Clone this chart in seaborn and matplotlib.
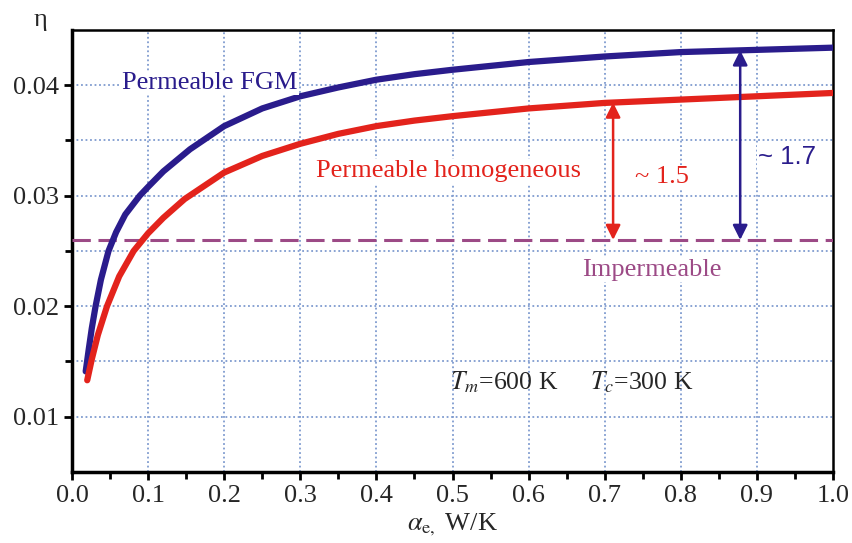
import numpy as np
import pandas as pd
import matplotlib
matplotlib.use("Agg")
import matplotlib.pyplot as plt
import seaborn as sns

# curves
alpha_fgm = [0.018, 0.022, 0.026, 0.031, 0.038, 0.048, 0.058, 0.07, 0.089, 0.1, 0.12, 0.155,
             0.2, 0.25, 0.3, 0.35, 0.4, 0.45, 0.5, 0.6, 0.7, 0.8, 0.9, 1.0]
eta_fgm = [0.0141, 0.0161, 0.0180, 0.0200, 0.0224, 0.0250, 0.0267, 0.0283, 0.0300, 0.0308,
           0.0322, 0.0342, 0.0363, 0.0379, 0.0390, 0.0398, 0.0405, 0.0410, 0.0414, 0.0421,
           0.0426, 0.0430, 0.0432, 0.0434]
alpha_hom = [0.02, 0.026, 0.034, 0.046, 0.062, 0.081, 0.1, 0.12, 0.148, 0.2, 0.25, 0.3,
             0.35, 0.4, 0.45, 0.5, 0.6, 0.7, 0.8, 0.9, 1.0]
eta_hom = [0.0133, 0.0152, 0.0174, 0.0200, 0.0227, 0.0250, 0.0266, 0.0280, 0.0297, 0.0321,
           0.0336, 0.0347, 0.0356, 0.0363, 0.0368, 0.0372, 0.0379, 0.0384, 0.0387, 0.0390,
           0.0393]
eta_imperm = 0.026
x_ticks = [0.0, 0.1, 0.2, 0.3, 0.4, 0.5, 0.6, 0.7, 0.8, 0.9, 1.0]
y_ticks = [0.01, 0.02, 0.03, 0.04]

BLUE = "#2a1c8c"
RED = "#e3231c"
PURPLE = "#9c4a86"
GRID = "#7f9bcf"

sns.set_theme(style="white")
plt.rcParams["font.family"] = ["Liberation Serif", "DejaVu Serif"]
plt.rcParams["mathtext.fontset"] = "stix"

df_fgm = pd.DataFrame({"alpha": alpha_fgm, "eta": eta_fgm})
df_hom = pd.DataFrame({"alpha": alpha_hom, "eta": eta_hom})

fig = plt.figure(figsize=(8.53, 5.43), dpi=100)
ax = fig.add_axes([0.0844, 0.1308, 0.8922, 0.814])

sns.lineplot(data=df_fgm, x="alpha", y="eta", color=BLUE, lw=4.5, ax=ax, zorder=4)
sns.lineplot(data=df_hom, x="alpha", y="eta", color=RED, lw=4.5, ax=ax, zorder=4)
for l in ax.lines:
    l.set_solid_joinstyle("round")
ax.axhline(eta_imperm, color=PURPLE, lw=2.2, ls=(0, (6, 2.5)), zorder=3)

ax.set_xlim(0, 1.0)
ax.set_ylim(0.005, 0.045)
ax.set_xticks(x_ticks)
ax.set_xticklabels([f"{v:.1f}" for v in x_ticks])
ax.set_yticks(y_ticks)
ax.set_yticklabels([f"{v:.2f}" for v in y_ticks])
ax.set_xticks(np.arange(0.05, 1.0, 0.1), minor=True)
ax.set_yticks([0.015, 0.025, 0.035], minor=True)
ax.tick_params(which="major", direction="out", length=6, width=2, labelsize=19, color="black",
               bottom=True, left=True)
ax.tick_params(which="minor", direction="out", length=5, width=2, color="black",
               bottom=True, left=True)

# dotted grid
for v in x_ticks[1:-1]:
    ax.axvline(v, color=GRID, lw=1.3, ls=(0, (1, 1.5)), zorder=1)
for v in np.arange(0.01, 0.0451, 0.005):
    ax.axhline(v, color=GRID, lw=1.3, ls=(0, (1, 1.5)), zorder=1)

for side in ["left", "bottom"]:
    ax.spines[side].set_linewidth(2.5)
for side in ["top", "right"]:
    ax.spines[side].set_linewidth(1.8)
for s in ax.spines.values():
    s.set_color("black")

ax.set_xlabel(r"$\alpha_{\mathrm{e,}}$ W/K", fontsize=19, labelpad=3)
ax.set_ylabel("")
fig.text(40 / 853, 1 - 20 / 543, "η", fontsize=19, ha="center", va="center")

box = dict(facecolor="white", edgecolor="none", pad=1)
ax.text(0.066, 0.0402, "Permeable FGM", color=BLUE, fontsize=19, va="center", bbox=box, zorder=5)
ax.text(0.321, 0.0322, "Permeable homogeneous", color=RED, fontsize=19, va="center", bbox=box,
        zorder=5)
ax.text(0.762, 0.0233, "Impermeable", color=PURPLE, fontsize=19, ha="center", va="center",
        bbox=box, zorder=5)
ax.text(0.497, 0.0131, r"$T_m$=600 K", fontsize=18.5, va="center", zorder=5)
ax.text(0.681, 0.0131, r"$T_c$=300 K", fontsize=18.5, va="center", zorder=5)

# ratio arrows
x_r, x_b = 0.711, 0.878
top_r = np.interp(x_r, alpha_hom, eta_hom)
top_b = np.interp(x_b, alpha_fgm, eta_fgm)
ax.annotate("", xy=(x_r, top_r), xytext=(x_r, eta_imperm),
            arrowprops=dict(arrowstyle="<|-|>", color=RED, lw=1.8, mutation_scale=22,
                            shrinkA=0, shrinkB=0), zorder=6)
ax.annotate("", xy=(x_b, top_b), xytext=(x_b, eta_imperm),
            arrowprops=dict(arrowstyle="<|-|>", color=BLUE, lw=1.8, mutation_scale=22,
                            shrinkA=0, shrinkB=0), zorder=6)
ax.text(0.775, 0.0317, "~ 1.5", color=RED, fontsize=19, ha="center", va="center", bbox=box,
        zorder=5)
ax.text(0.94, 0.0335, "~ 1.7", color=BLUE, fontsize=18.5, ha="center", va="center",
        family=["Liberation Sans", "DejaVu Sans"], bbox=box, zorder=5)

fig.savefig("out.png", dpi=100, facecolor="white")
